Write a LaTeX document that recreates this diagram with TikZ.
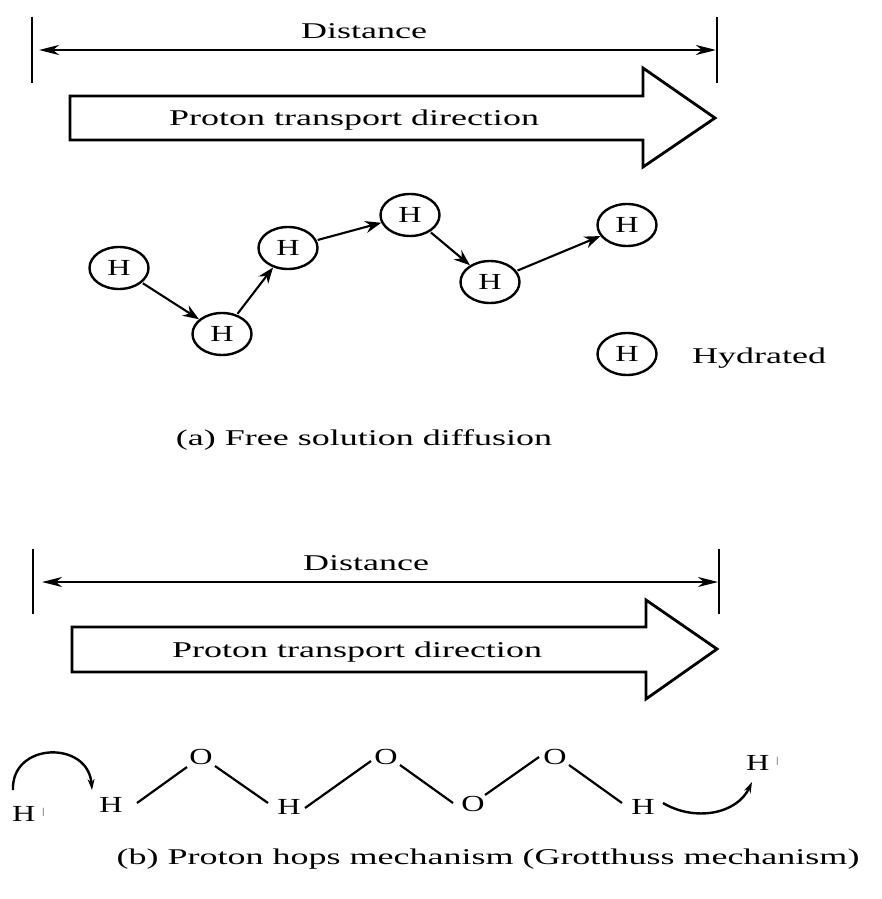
\documentclass[tikz,border=0pt]{standalone}
\usepackage{fontspec}
\setmainfont{Liberation Serif}
\usetikzlibrary{arrows.meta,shapes.geometric,calc}
\newcommand{\wtxt}[1]{\scalebox{1.6}[1]{#1}}
\newcommand{\ltr}[1]{\scalebox{1.4}[1]{#1}}
\newcommand{\hplus}{\ltr{H}\hspace{7pt}\raisebox{7pt}{\fontsize{9}{9}\selectfont|}}
\begin{document}
\begin{tikzpicture}[x=1pt,y=-1pt,
  txt/.style={inner sep=0pt, font=\fontsize{22.5}{26}\selectfont},
  hyd/.style={ellipse, draw, line width=2.4pt, minimum width=59pt, minimum height=42pt, inner sep=0pt, font=\fontsize{23}{26}\selectfont},
  hop/.style={-{Stealth[length=16pt,width=12pt]}, line width=2.1pt, shorten <=1pt},
  bar/.style={line width=2.8pt},
  dist/.style={{Stealth[length=20pt,width=10pt,inset=6pt]}-{Stealth[length=20pt,width=10pt,inset=6pt]}},
  bigarrow/.style={draw, line width=2.8pt, line join=miter},
  bond/.style={line width=2.2pt},
  atom/.style={inner sep=0pt, font=\fontsize{23}{26}\selectfont},
  curly/.style={line width=2.4pt, -{Stealth[length=11pt,width=7pt]}}]
\useasboundingbox (0,0) rectangle (881,899);

% ---------- (a) ----------
\draw[bar] (32,17) -- (32,83);
\draw[bar] (717,17) -- (717,83);
\coordinate (d1l) at (39,50);
\coordinate (d1r) at (716,50);
\draw[dist, line width=2.6pt] (d1l) -- (d1r);
\node[txt, anchor=base] (dist1) at (364,38) {\wtxt{Distance}};
\draw[bigarrow] (70,96) -- (643,96) -- (643,68) -- (715,118) -- (643,167) -- (643,140) -- (70,140) -- cycle;
\node[txt, anchor=base] (ptd1) at (354,125) {\wtxt{Proton transport direction}};

\node[hyd] (h1) at (119,268) {\ltr{H}};
\node[hyd] (h2) at (222,334) {\ltr{H}};
\node[hyd] (h3) at (288,248) {\ltr{H}};
\node[hyd] (h4) at (410,215) {\ltr{H}};
\node[hyd] (h5) at (490,282) {\ltr{H}};
\node[hyd] (h6) at (627,225) {\ltr{H}};
\draw[hop] (h1) -- (h2);
\draw[hop] (h2) -- (h3);
\draw[hop] (h3) -- (h4);
\draw[hop] (h4) -- (h5);
\draw[hop] (h5) -- (h6);

\node[hyd] (hl) at (627,354) {\ltr{H}};
\node[txt, anchor=base west] (hydr) at (692,363) {\wtxt{Hydrated}};

\node[txt, anchor=base] (capa) at (364,445) {\wtxt{(a) Free solution diffusion}};

% ---------- (b) ----------
\draw[bar] (33,549) -- (33,614);
\draw[bar] (719,549) -- (719,614);
\coordinate (d2l) at (42,582);
\coordinate (d2r) at (718,582);
\draw[dist, line width=2.1pt] (d2l) -- (d2r);
\node[txt, anchor=base] (dist2) at (366,570) {\wtxt{Distance}};
\draw[bigarrow] (72,627) -- (646,627) -- (646,600) -- (717,649) -- (646,699) -- (646,672) -- (72,672) -- cycle;
\node[txt, anchor=base] (ptd2) at (357,657) {\wtxt{Proton transport direction}};

\node[atom] (Ha) at (111,805) {\ltr{H}};
\node[atom] (Oa) at (201,757) {\ltr{O}};
\node[atom] (Hb) at (289,807) {\ltr{H}};
\node[atom] (Ob) at (386,757) {\ltr{O}};
\node[atom] (Oc) at (473,804) {\ltr{O}};
\node[atom] (Od) at (555,757) {\ltr{O}};
\node[atom] (Hc) at (643,807) {\ltr{H}};
\node[atom, anchor=base west] (Hp1) at (12,821) {\hplus};
\node[atom, anchor=base west] (Hp2) at (746,770) {\hplus};

\draw[bond] ([shift={(26,-2)}]Ha.center) -- ([shift={(-14,10)}]Oa.center);
\draw[bond] ([shift={(14,9)}]Oa.center) -- ([shift={(-21,-4)}]Hb.center);
\draw[bond] ([shift={(16,1)}]Hb.center) -- ([shift={(-15,4)}]Ob.center);
\draw[bond] ([shift={(14,8)}]Ob.center) -- ([shift={(-20,-1)}]Oc.center);
\draw[bond] ([shift={(12,-9)}]Oc.center) -- ([shift={(-16,0)}]Od.center);
\draw[bond] ([shift={(14,8)}]Od.center) -- ([shift={(-21,-4)}]Hc.center);

\coordinate (cl1) at (13,790);
\coordinate (cl2) at (92,790);
\draw[curly] (cl1) .. controls (11,742) and (88,740) .. (cl2);
\coordinate (cr1) at (663,803);
\coordinate (cr2) at (752,782);
\draw[curly] (cr1) .. controls (695,822) and (737,814) .. (cr2);

\node[txt, anchor=base] (capb) at (488,864) {\wtxt{(b) Proton hops mechanism (Grotthuss mechanism)}};
\end{tikzpicture}
\end{document}
